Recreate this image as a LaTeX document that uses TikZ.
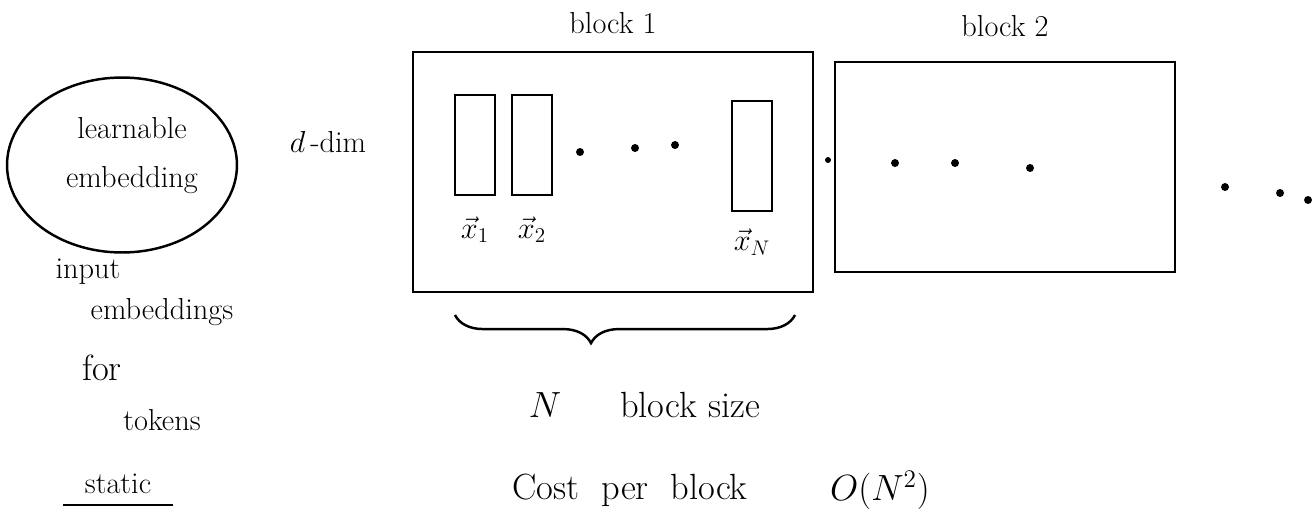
\documentclass[tikz,border=0pt]{standalone}
\usepackage{amsmath}
\usepackage{tikz}
\usetikzlibrary{calc}
\usetikzlibrary{decorations.pathreplacing,shapes.geometric}

\tikzset{
  blockbox/.style={draw, line width=1.4pt, rectangle, inner sep=0pt},
  vecbox/.style={draw, line width=1.4pt, rectangle, inner sep=0pt, minimum width=0.8cm, minimum height=2cm},
  dotmark/.style={circle, fill, inner sep=1.6pt},
  lbl/.style={font=\LARGE},
  biglbl/.style={font=\huge}
}

\begin{document}
\begin{tikzpicture}[x=0.02cm,y=-0.02cm]
\useasboundingbox (0,0) rectangle (1314,531);
% embedding table on the left
\node[draw, ellipse, line width=1.4pt, minimum width=4.6cm, minimum height=3.5cm] (emb) at (122,165) {};
\node[lbl] (learn) at (132,128) {learnable};
\node[lbl] (embd) at (132,180) {embedding};
\node[lbl] (ddim) at (328,142) {$d$\,-dim};
\node[lbl] (inp) at (88,272) {input};
\node[lbl] (inpe) at (162,312) {embeddings};
\node[biglbl] (for) at (102,368) {for};
\node[lbl] (tok) at (162,420) {tokens};
\node[lbl] (stat) at (118,484) {static};
\draw[line width=1.4pt] (63,505) -- (173,505);
% block 1 with its vectors
\node[blockbox, minimum width=8cm, minimum height=4.8cm] (blk1) at (613,172) {};
\node[lbl, above=6pt] (blk1t) at (blk1.north) {block 1};
\node[vecbox] (v1) at (475,145) {};
\node[vecbox] (v2) at (532,145) {};
\node[vecbox, minimum height=2.2cm] (vN) at (752,156) {};
\node[lbl, below=8pt] (x1) at (v1.south) {$\vec{x}_1$};
\node[lbl, below=8pt] (x2) at (v2.south) {$\vec{x}_2$};
\node[lbl, below=6pt] (xN) at (vN.south) {$\vec{x}_N$};
\node[dotmark] (d1) at (580,152) {};
\node[dotmark] (d2) at (635,148) {};
\node[dotmark] (d3) at (675,145) {};
\node[dotmark, inner sep=1.2pt] (gap) at (828,160) {};
% block 2
\node[blockbox, minimum width=6.8cm, minimum height=4.2cm] (blk2) at (1005,167) {};
\node[lbl, above=10pt] (blk2t) at (blk2.north) {block 2};
\node[dotmark] (e1) at (895,163) {};
\node[dotmark] (e2) at (955,163) {};
\node[dotmark] (e3) at (1030,168) {};
\node[dotmark] (f1) at (1225,187) {};
\node[dotmark] (f2) at (1280,193) {};
\node[dotmark] (f3) at (1308,200) {};
% block size and cost
\coordinate (bl) at (455,315);
\coordinate (br) at (795,315);
\draw[line width=1.4pt, decorate, decoration={brace, mirror, amplitude=16pt, aspect=0.4}] (bl) -- (br);
\node[biglbl] (n) at (545,405) {$N$};
\node[biglbl] (bsz) at (690,405) {block size};
\node[biglbl] (cost) at (630,490) {Cost \ per \ block};
\node[biglbl] (ord) at (880,490) {$O(N^2)$};
\end{tikzpicture}
\end{document}
